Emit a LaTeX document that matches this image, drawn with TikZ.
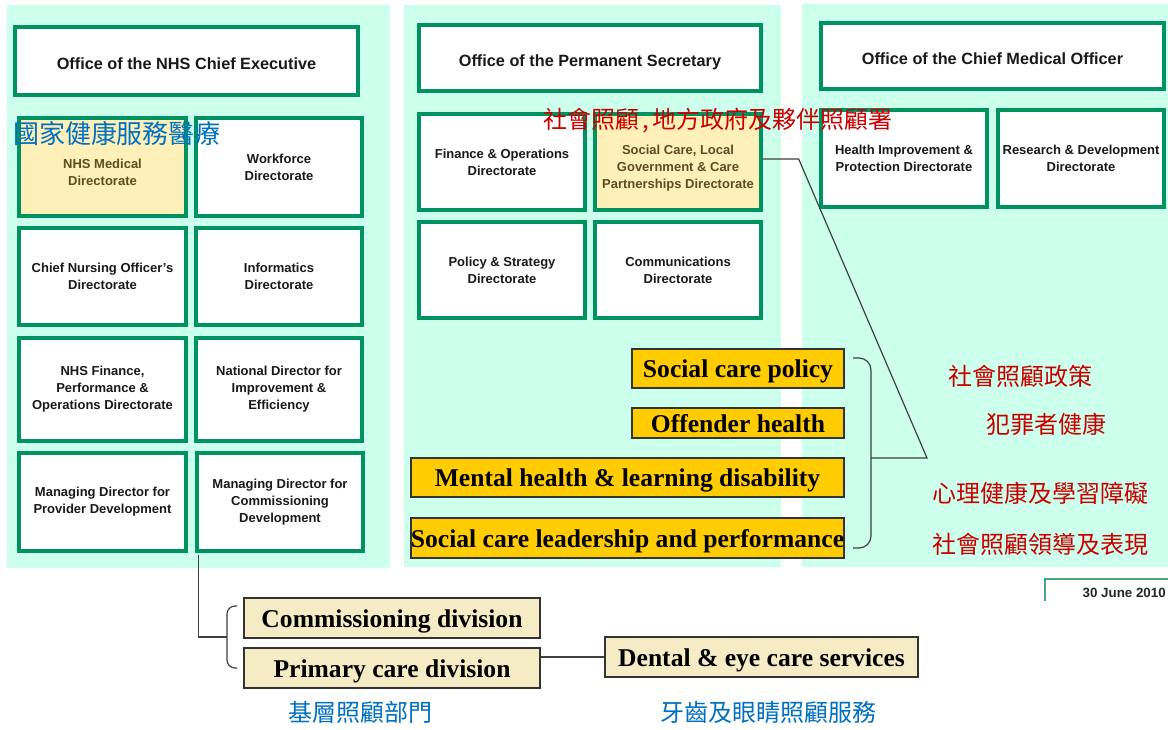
\documentclass[tikz,border=0pt]{standalone}
\usepackage{fontspec}
\setmainfont{Liberation Sans}
\newfontfamily\tnr{Liberation Serif}
\newfontfamily\cjk{Noto Sans CJK TC}
\definecolor{mint}{RGB}{204,255,236}
\definecolor{ngreen}{RGB}{0,146,96}
\definecolor{yfill}{RGB}{255,240,185}
\definecolor{olivetext}{RGB}{92,78,35}
\definecolor{ocol}{RGB}{255,204,0}
\definecolor{beige}{RGB}{245,236,197}
\definecolor{redc}{RGB}{200,0,0}
\definecolor{bluec}{RGB}{0,112,192}
\definecolor{dgreen}{RGB}{70,170,120}
% #1 style, #2 name, #3-#6 x1 y1 x2 y2 (border centre line, px), #7 text
\newcommand\pbox[7]{\node[#1,minimum width={(#5-#3)*0.75pt},minimum height={(#6-#4)*0.75pt}]
  (#2) at ({(#3+#5)/2},{(#4+#6)/2}) {#7};}
\begin{document}
\begin{tikzpicture}[x=0.75pt,y=-0.75pt,
  panel/.style={fill=mint,draw=none},
  gbox/.style={inner sep=0pt,draw=ngreen,line width=2.5pt,fill=white,align=center,text=black!90,
    font=\bfseries\fontsize{9.75}{12.7}\selectfont},
  tbox/.style={gbox,font=\bfseries\fontsize{12.2}{14}\selectfont,text height=12.5pt,text depth=0pt},
  ybox/.style={gbox,fill=yfill},
  ytext/.style={inner sep=0pt,align=center,text=olivetext,font=\bfseries\fontsize{9.75}{12.7}\selectfont},
  obox/.style={inner sep=0pt,draw=black!80,line width=1pt,fill=ocol,text=black,
    font=\tnr\bfseries\fontsize{19.2}{22}\selectfont,text height=13.5pt,text depth=0pt},
  bbox/.style={obox,fill=beige},
  conn/.style={draw=black!75,line width=0.9pt},
  redlbl/.style={inner sep=0pt,text=redc,font=\cjk\fontsize{18}{20}\selectfont},
  bluelbl/.style={inner sep=0pt,text=bluec,font=\cjk\fontsize{18}{20}\selectfont}]
\useasboundingbox (0,0) rectangle (1168,729);
\fill[white] (0,0) rectangle (1168,729);
% panels
\fill[panel] (7,5) rectangle (390,568);
\fill[panel] (404,5) rectangle (781,567);
\fill[panel] (802,4) rectangle (1168,567);
% panel 1
\pbox{tbox}{ce}{15}{27}{358}{95}{Office of the NHS Chief Executive}
\pbox{ybox}{med}{19}{118}{186}{216}{}
\node[ytext] (medt) at ([yshift=-3.75pt]med.center) {NHS Medical\\Directorate};
\pbox{gbox}{wf}{196}{118}{362}{216}{Workforce\\Directorate}
\pbox{gbox}{cno}{19}{228}{186}{325}{Chief Nursing Officer's\\Directorate}
\pbox{gbox}{inf}{196}{228}{362}{325}{Informatics\\Directorate}
\pbox{gbox}{fin}{19}{338}{186}{441}{NHS Finance,\\Performance \&\\Operations Directorate}
\pbox{gbox}{nd}{196}{338}{362}{441}{National Director for\\Improvement \&\\Efficiency}
\pbox{gbox}{pd}{19}{453}{186}{551}{Managing Director for\\Provider Development}
\pbox{gbox}{cd}{197}{453}{363}{551}{Managing Director for\\Commissioning\\Development}
% panel 2
\pbox{tbox}{ps}{419}{25}{761}{91}{Office of the Permanent Secretary}
\pbox{gbox}{fo}{419}{114}{585}{210}{Finance \& Operations\\Directorate}
\pbox{ybox}{sc}{595}{114}{761}{210}{}
\node[ytext] (sct) at ([yshift=-4.5pt]sc.center) {Social Care, Local\\Government \& Care\\Partnerships Directorate};
\pbox{gbox}{pol}{419}{222}{585}{318}{Policy \& Strategy\\Directorate}
\pbox{gbox}{com}{595}{222}{761}{318}{Communications\\Directorate}
% panel 3
\pbox{tbox}{cmo}{821}{23}{1164}{89}{Office of the Chief Medical Officer}
\pbox{gbox}{hi}{821}{110}{987}{207}{Health Improvement \&\\Protection Directorate}
\pbox{gbox}{rd}{998}{110}{1164}{207}{Research \& Development\\Directorate}
% orange boxes
\pbox{obox}{scp}{632}{349}{844}{388}{Social care policy}
\pbox{obox}{off}{632}{408}{844}{438}{Offender health}
\pbox{obox}{mh}{411}{458}{844}{497}{Mental health \& learning disability}
\pbox{obox}{scl}{411}{518}{844}{558}{Social care leadership and performance}
% bottom boxes
\pbox{bbox}{comm}{244}{598}{540}{638}{Commissioning division}
\pbox{bbox}{prim}{244}{648}{540}{688}{Primary care division}
\pbox{bbox}{dent}{605}{637}{918}{677}{Dental \& eye care services}
% right bracket and link to social care directorate
\coordinate (rbt) at (853,358);
\coordinate (rbb) at (853,548);
\coordinate (rbm) at (871,458);
\coordinate (apex) at (927,458);
\draw[conn,rounded corners=9pt] (rbt) -- (871,358) -- (871,548) -- (rbb);
\draw[conn] (sc.east) ++(0,-3) -- ++(36,0) -- (apex) -- (rbm);
% left bracket and link from commissioning development
\coordinate (lbt) at (237,606);
\coordinate (lbb) at (237,668);
\coordinate (lbm) at (227,637);
\draw[conn,rounded corners=6pt] (lbt) -- (227,606) -- (227,668) -- (lbb);
\draw[conn] (cd.south west) ++(3,2) |- (lbm);
\draw[conn] (prim.east |- dent.west) -- (dent.west);
% date
\draw[dgreen,line width=0.8pt] (1045,601) |- (1168,579);
\node[anchor=east,inner sep=0pt,font=\bfseries\fontsize{10}{12}\selectfont,text=black!85] (date) at (1166,593) {30 June 2010};
% chinese labels
\node[bluelbl,font=\cjk\fontsize{19.5}{21}\selectfont] (zh1) at (117,134) {國家健康服務醫療};
\node[redlbl,anchor=west] (zh2) at (543,121) {社會照顧\kern2.5pt,\kern2.5pt地方政府及夥伴照顧署};
\node[redlbl,anchor=west] (zh3) at (948,376) {社會照顧政策};
\node[redlbl,anchor=west] (zh4) at (986,424) {犯罪者健康};
\node[redlbl,anchor=west] (zh5) at (932,493) {心理健康及學習障礙};
\node[redlbl,anchor=west] (zh6) at (932,544) {社會照顧領導及表現};
\node[bluelbl] (zh7) at (360,712) {基層照顧部門};
\node[bluelbl] (zh8) at (768,712) {牙齒及眼睛照顧服務};
\end{tikzpicture}
\end{document}
